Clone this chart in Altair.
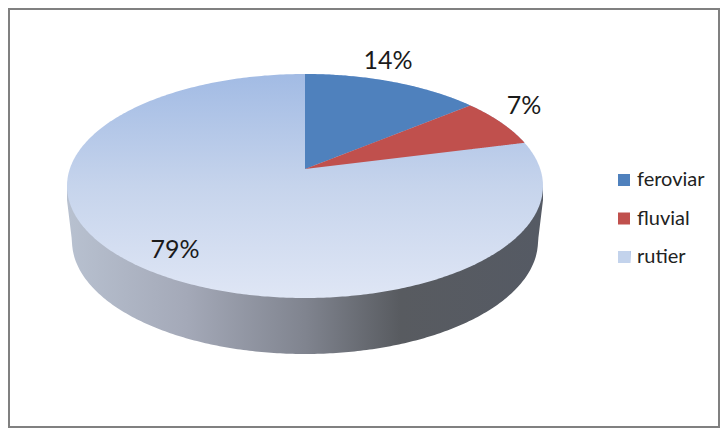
import altair as alt
import numpy as np
import pandas as pd

categories = ["feroviar", "fluvial", "rutier"]
shares = [14, 7, 79]
labels = ["14%", "7%", "79%"]
colors = ["#4F81BD", "#C0504D", "#C3D3EC"]

# reference-pixel coordinate system used by the hidden scales
W, H, M = 720, 428, 8
xs_scale = alt.Scale(domain=[M, W], range=[0, W - M], nice=False, zero=False)
ys_scale = alt.Scale(domain=[H, M], range=[H - M, 0], nice=False, zero=False)
X = alt.X("x:Q", scale=xs_scale, axis=None)
Y = alt.Y("y:Q", scale=ys_scale, axis=None)

# pie geometry (tilted disc seen in perspective)
ax, ay = 305.0, 169.0          # apex of the slices
top, front = 74.0, 298.0       # far and near rim
half_w = 238.0
k = (front - ay - (ay - top)) / (front - ay + (ay - top))
A = (ay - top) * (1 + k)
B = half_w * np.sqrt(1 - k * k)
cy, ry = (top + front) / 2, (front - top) / 2


def rim(theta):
    d = 1 + k * np.cos(theta)
    return ax + B * np.sin(theta) / d, ay - A * np.cos(theta) / d


cum = np.cumsum(shares) / np.sum(shares) * 2 * np.pi
t = np.linspace(-np.pi / 2, np.pi / 2, 241)
ex = ax + half_w * np.sin(t)
root = np.sqrt(np.clip(1 - ((ex - ax) / half_w) ** 2, 0, 1))
upper = cy - ry * root
lower = cy + ry * root

# whole top face = rutier
face = pd.DataFrame({"x": ex, "y": upper, "y2": lower})

# feroviar and fluvial slices
th1 = np.linspace(0, cum[0], 90)
rx1, ry1 = rim(th1)
blue = pd.DataFrame({"x": rx1, "y": ry1,
                     "y2": np.interp(rx1, [ax, rx1[-1]], [ay, ry1[-1]]), "cat": categories[0]})
th2 = np.linspace(cum[0], cum[1], 60)
rx2, ry2 = rim(th2)
x_red = np.concatenate([[ax], rx2])
y_red = np.concatenate([[ay], ry2])
red = pd.DataFrame({"x": x_red, "y": y_red,
                    "y2": np.interp(x_red, [ax, rx2[-1]], [ay, ry2[-1]]), "cat": categories[1]})
slices = pd.concat([blue, red], ignore_index=True)

# side wall
depth_cy, depth_ry, depth_rx = 241.0, 113.0, 233.0
wall_root = np.sqrt(np.clip(1 - ((ex - ax) / depth_rx) ** 2, 0, 1))
wall_low = np.where(np.abs(ex - ax) <= depth_rx,
                    depth_cy + depth_ry * wall_root,
                    np.interp(np.abs(ex - ax), [depth_rx, half_w], [depth_cy, 200.0]))
wall = pd.DataFrame({"x": ex, "y": cy + 0 * ex, "y2": wall_low})

wall_grad = alt.Gradient(
    gradient="linear", x1=0, x2=1, y1=0, y2=0,
    stops=[
        alt.GradientStop(offset=0.0, color="#B8C1D0"),
        alt.GradientStop(offset=0.25, color="#A4A9B8"),
        alt.GradientStop(offset=0.5, color="#80848F"),
        alt.GradientStop(offset=0.7, color="#585B60"),
        alt.GradientStop(offset=1.0, color="#555A64"),
    ],
)
face_grad = alt.Gradient(
    gradient="linear", x1=0, x2=0, y1=0, y2=1,
    stops=[
        alt.GradientStop(offset=0.0, color="#A2BBE4"),
        alt.GradientStop(offset=0.5, color="#C6D4EC"),
        alt.GradientStop(offset=1.0, color="#DFE6F5"),
    ],
)
swatch_grad = alt.Gradient(
    gradient="linear", x1=0, x2=0, y1=0, y2=1,
    stops=[
        alt.GradientStop(offset=0.0, color="#AFC4E8"),
        alt.GradientStop(offset=1.0, color="#E0E8F6"),
    ],
)

wall_layer = alt.Chart(wall).mark_area(fill=wall_grad, interpolate="linear").encode(x=X, y=Y, y2="y2:Q")
face_layer = alt.Chart(face).mark_area(fill=face_grad, interpolate="linear").encode(x=X, y=Y, y2="y2:Q")
slice_layer = alt.Chart(slices).mark_area(interpolate="linear").encode(
    x=X, y=Y, y2="y2:Q",
    color=alt.Color(
        "cat:N",
        scale=alt.Scale(domain=categories, range=colors),
        legend=alt.Legend(
            title=None, orient="none", legendX=606, legendY=162,
            symbolType="square", symbolSize=144, symbolStrokeWidth=0,
            labelFont="Lato", labelFontSize=20, labelColor="#222222",
            labelOffset=3, rowPadding=18.5, padding=0,
        ),
    ),
)

swatch_layer = alt.Chart(
    pd.DataFrame({"x": [619], "x2": [631], "y": [251], "y2": [263]})
).mark_rect(fill=swatch_grad).encode(x=X, x2="x2:Q", y=Y, y2="y2:Q")

label_df = pd.DataFrame({"x": [388, 524, 175], "y": [61, 106, 250], "t": labels})
label_layer = alt.Chart(label_df).mark_text(
    font="Lato", fontSize=25, color="#1A1A1A", align="center", baseline="middle"
).encode(x=X, y=Y, text="t:N")

frame = alt.Chart(pd.DataFrame({"x": [M + 1], "x2": [W - 1], "y": [M + 1], "y2": [H - 1]})).mark_rect(
    fill=None, stroke="#808080", strokeWidth=2
).encode(x=X, x2="x2:Q", y=Y, y2="y2:Q")

chart = (
    alt.layer(wall_layer, face_layer, slice_layer, swatch_layer, label_layer, frame)
    .properties(width=W - M, height=H - M, padding=0, background="white")
    .configure_view(stroke=None)
)

chart.save("out.html", embed_options={"renderer": "svg", "actions": False})
